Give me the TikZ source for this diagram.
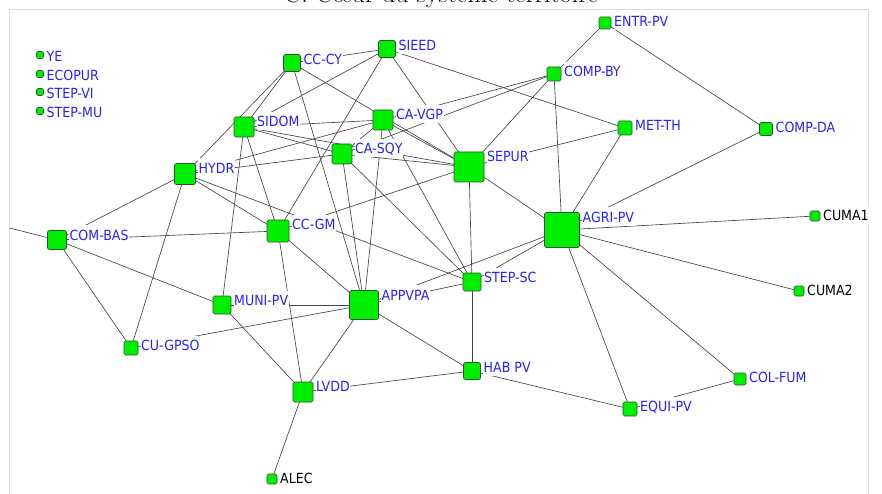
\documentclass[tikz,border=0pt]{standalone}
\usepackage{fontspec}
\newfontfamily\labfont{DejaVu Sans Condensed}
\definecolor{nodegreen}{RGB}{0,238,0}
\definecolor{nodeborder}{RGB}{45,85,45}
\definecolor{labblue}{RGB}{35,35,255}
\definecolor{edgegray}{RGB}{70,70,70}
\definecolor{framegray}{RGB}{220,220,220}
\pgfdeclarelayer{bglayer}
\pgfdeclarelayer{edgelayer}
\pgfsetlayers{bglayer,edgelayer,main}
\tikzset{
  vbox/.style={draw=nodeborder, fill=nodegreen, rounded corners=1.5pt, inner sep=0pt, line width=0.6pt},
  lab/.style={fill=white, inner xsep=0.5pt, inner ysep=0pt, text height=15pt, text depth=3.5pt, anchor=base west, font=\labfont\fontsize{14}{15}\selectfont},
  edge/.style={draw=edgegray, line width=0.65pt}
}
\newcommand\vx[6]{%
  \node[vbox, minimum size=#4pt] (#1) at (#2,#3) {};
  \node[lab, text=#6] (#1-l) at ([xshift=2.2pt,yshift=-10pt]#1.north east) {#5};}
\begin{document}
\begin{tikzpicture}[x=1pt,y=-1pt]
\useasboundingbox (0,0) rectangle (882,494);
\begin{pgfonlayer}{bglayer}
\fill[white] (0,0) rectangle (882,494);
\draw[framegray, line width=0.8pt] (9,9) rectangle (868,520);
\end{pgfonlayer}
% title (cut off at the top, as in the reference)
\node[anchor=base, font=\fontsize{26}{28}\selectfont] (title) at (441,2.5) {C. Cœur du système territoire};
% legend (isolated nodes)
\vx{ye}{40}{55}{7}{YE}{labblue}
\vx{ecopur}{40}{74}{7}{ECOPUR}{labblue}
\vx{stepvi}{40}{92}{7}{STEP-VI}{labblue}
\vx{stepmu}{40}{111}{7}{STEP-MU}{labblue}
% nodes
\vx{entr}{605}{23}{12}{ENTR-PV}{labblue}
\vx{compby}{554}{74}{14}{COMP-BY}{labblue}
\vx{metth}{625}{128}{14}{MET-TH}{labblue}
\vx{compda}{766}{129}{13}{COMP-DA}{labblue}
\vx{cuma1}{815}{216}{10}{CUMA1}{black}
\vx{cuma2}{799}{291}{10}{CUMA2}{black}
\vx{agri}{562}{230}{35}{AGRI-PV}{labblue}
\vx{stepsc}{472}{282}{18}{STEP-SC}{labblue}
\vx{hab}{472}{371}{17}{HAB PV}{labblue}
\vx{equi}{630}{409}{14}{EQUI-PV}{labblue}
\vx{colfum}{740}{379}{12}{COL-FUM}{labblue}
\vx{lvdd}{303}{392}{20}{LVDD}{labblue}
\vx{alec}{272}{479}{10}{ALEC}{black}
\vx{cugpso}{131}{348}{14}{CU-GPSO}{labblue}
\vx{muni}{222}{305}{18}{MUNI-PV}{labblue}
\vx{appvpa}{364}{305}{29}{APPVPA}{labblue}
\vx{combas}{57}{240}{19}{COM-BAS}{labblue}
\vx{hydr}{185}{174}{21}{HYDR}{labblue}
\vx{ccgm}{278}{231}{22}{CC-GM}{labblue}
\vx{sidom}{244}{127}{20}{SIDOM}{labblue}
\vx{cccy}{292}{63}{17}{CC-CY}{labblue}
\vx{sieed}{387}{49}{17}{SIEED}{labblue}
\vx{cavgp}{383}{120}{20}{CA-VGP}{labblue}
\vx{casqy}{342}{154}{20}{CA-SQY}{labblue}
\vx{sepur}{469}{167}{30}{SEPUR}{labblue}
\coordinate (leftend) at (9.5,228);
\begin{pgfonlayer}{edgelayer}
\foreach \a/\b in {entr/compby, entr/compda, compda/agri,
  compby/agri, compby/sepur, compby/cavgp, compby/casqy,
  metth/sieed, metth/sepur, metth/agri,
  sieed/cccy, sieed/sidom, sieed/ccgm, sieed/sepur,
  cccy/sidom, cccy/hydr, cccy/sepur, cccy/appvpa,
  cavgp/sepur, cavgp/appvpa, cavgp/stepsc, cavgp/sidom, cavgp/hydr, cavgp/casqy,
  casqy/sidom, casqy/hydr, casqy/sepur, casqy/appvpa, casqy/stepsc,
  sidom/muni, sidom/ccgm, sidom/sepur,
  hydr/combas, hydr/cugpso, hydr/ccgm, hydr/stepsc,
  combas/ccgm, combas/muni, combas/cugpso,
  ccgm/sepur, ccgm/lvdd, ccgm/appvpa,
  sepur/agri, sepur/stepsc,
  agri/cuma1, agri/cuma2, agri/colfum, agri/equi, agri/stepsc, agri/appvpa,
  stepsc/appvpa, stepsc/hab,
  hab/appvpa, hab/lvdd, hab/equi,
  equi/colfum,
  appvpa/lvdd, appvpa/muni, appvpa/cugpso,
  muni/lvdd, lvdd/alec}
  {\draw[edge] (\a.center) -- (\b.center);}
\draw[edge] (leftend) -- (combas.center);
\end{pgfonlayer}
\end{tikzpicture}
\end{document}
